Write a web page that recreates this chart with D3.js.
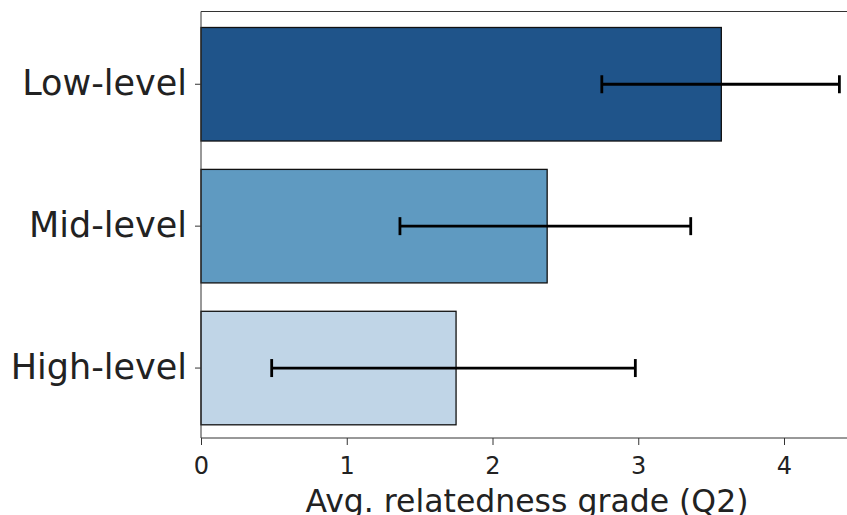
<!DOCTYPE html>
<html><head><meta charset="utf-8">
<script src="https://cdn.jsdelivr.net/npm/d3@7"></script>
<style>body{margin:0;background:#fff}svg{display:block}text{font-family:"DejaVu Sans",sans-serif}</style>
</head><body><svg id="c" width="847" height="515"></svg>
<script>
const categories = ["Low-level", "Mid-level", "High-level"];
const values = [3.57, 2.375, 1.75];
const ciLow = [2.75, 1.365, 0.485];
const ciHigh = [4.38, 3.36, 2.98];
const colors = ["#1f548a", "#5f9ac1", "#c0d5e7"];
const xTicks = [0, 1, 2, 3, 4];
const xLabel = "Avg. relatedness grade (Q2)";

const svg = d3.select("#c");
const L = 201, R = 847, T = 11.5, B = 438;
const x = d3.scaleLinear().domain([0, 4.43]).range([L, L + 4.43 * 145.75]);
const y = d3.scaleBand().domain(categories).range([13.3, 439]).paddingInner(0.2).paddingOuter(0.1);

const g = svg.append("g");
g.selectAll("rect.bar").data(categories).join("rect")
  .attr("x", x(0)).attr("y", d => y(d))
  .attr("width", (d, i) => x(values[i]) - x(0)).attr("height", y.bandwidth())
  .attr("fill", (d, i) => colors[i]).attr("stroke", "#111").attr("stroke-width", 1.3);

const eb = g.selectAll("g.eb").data(categories).join("g");
eb.append("line").attr("x1", (d, i) => x(ciLow[i])).attr("x2", (d, i) => x(ciHigh[i]))
  .attr("y1", d => y(d) + y.bandwidth() / 2).attr("y2", d => y(d) + y.bandwidth() / 2)
  .attr("stroke", "#000").attr("stroke-width", 2.8);
[ciLow, ciHigh].forEach(arr => {
  eb.append("line").attr("x1", (d, i) => x(arr[i])).attr("x2", (d, i) => x(arr[i]))
    .attr("y1", d => y(d) + y.bandwidth() / 2 - 9).attr("y2", d => y(d) + y.bandwidth() / 2 + 9)
    .attr("stroke", "#000").attr("stroke-width", 2.8);
});

// spines
svg.append("line").attr("x1", L).attr("x2", R).attr("y1", T).attr("y2", T).attr("stroke", "#333").attr("stroke-width", 1);
svg.append("line").attr("x1", L).attr("x2", R).attr("y1", B).attr("y2", B).attr("stroke", "#333").attr("stroke-width", 1);
svg.append("line").attr("x1", L).attr("x2", L).attr("y1", T).attr("y2", B).attr("stroke", "#333").attr("stroke-width", 1);

const xa = svg.append("g").attr("transform", `translate(0,${B})`)
  .call(d3.axisBottom(x).tickValues(xTicks).tickFormat(d3.format("d")).tickSize(7).tickPadding(12));
xa.select(".domain").remove();
xa.selectAll("line").attr("stroke", "#333");
xa.selectAll("text").attr("font-size", 24).attr("fill", "#222").attr("font-family", "DejaVu Sans");

const ya = svg.append("g").attr("transform", `translate(${L},0)`)
  .call(d3.axisLeft(y).tickSize(6).tickPadding(8));
ya.select(".domain").remove();
ya.selectAll("line").attr("stroke", "#333");
ya.selectAll("text").attr("font-size", 35).attr("fill", "#222").attr("font-family", "DejaVu Sans");

svg.append("text").attr("x", (L + R) / 2 + 3).attr("y", 512).attr("text-anchor", "middle")
  .attr("font-size", 31.5).attr("fill", "#222").text(xLabel);
</script></body></html>
